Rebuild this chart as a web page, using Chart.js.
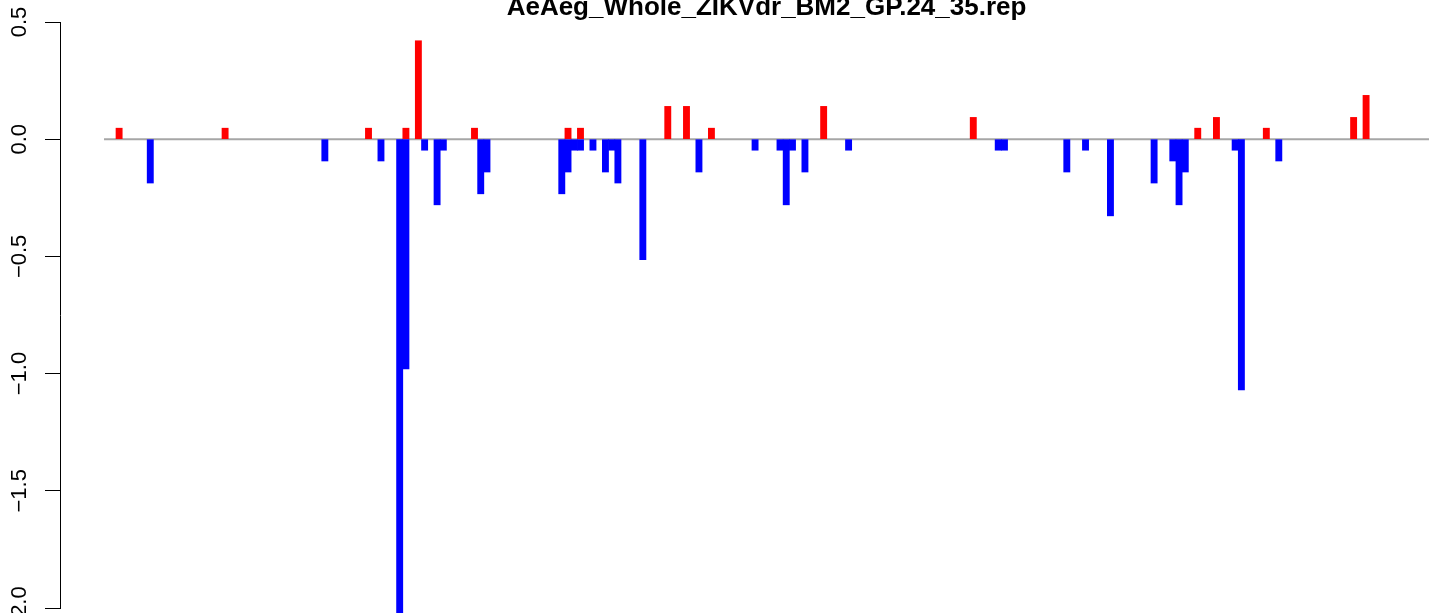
<!DOCTYPE html>
<html>
<head>
<meta charset="utf-8">
<script src="https://cdn.jsdelivr.net/npm/chart.js@4.4.1/dist/chart.umd.min.js"></script>
<style>
  html, body { margin: 0; padding: 0; background: #fff; overflow: hidden; }
  #wrap { position: relative; width: 1429px; height: 640px; }
</style>
</head>
<body>
<div id="wrap"><canvas id="repChart"></canvas></div>
<script>
const chartTitle = 'AeAeg_Whole_ZIKVdr_BM2_GP.24_35.rep';
const yTicks = [-2.0, -1.5, -1.0, -0.5, 0.0, 0.5];

// red bars (above zero): slot index along the track and value
const upSlots = [0, 17, 40, 46, 48, 57, 72, 74, 88, 91, 95, 113, 137, 173, 176, 184, 198, 200];
const upValues = [0.047, 0.047, 0.047, 0.047, 0.42, 0.047, 0.047, 0.047, 0.14, 0.14, 0.047, 0.14, 0.093, 0.047, 0.093, 0.047, 0.093, 0.187];

// blue bars (below zero)
const downSlots = [5, 33, 42, 45, 46, 49, 51, 52, 58, 59, 71, 72, 73, 74, 76, 78, 79, 80, 84, 93,
  102, 106, 107, 108, 110, 117, 141, 142, 152, 155, 159, 166, 169, 170, 171, 179, 180, 186];
const downValues = [-0.187, -0.093, -0.093, -2.05, -0.98, -0.047, -0.28, -0.047, -0.233, -0.14,
  -0.233, -0.14, -0.047, -0.047, -0.047, -0.14, -0.047, -0.187, -0.514, -0.14,
  -0.047, -0.047, -0.28, -0.047, -0.14, -0.047, -0.047, -0.047, -0.14, -0.047,
  -0.327, -0.187, -0.093, -0.28, -0.14, -0.047, -1.07, -0.093];

const zeroLineFrom = -2.42; // where the grey zero line starts, in slot units

const zeroLine = {
  id: 'zeroLine',
  beforeDatasetsDraw(chart) {
    const { ctx, chartArea, scales: { x, y } } = chart;
    const py = y.getPixelForValue(0);
    ctx.save();
    ctx.strokeStyle = '#a6a6a6';
    ctx.lineWidth = 2;
    ctx.beginPath();
    ctx.moveTo(x.getPixelForValue(zeroLineFrom), py);
    ctx.lineTo(chartArea.right, py);
    ctx.stroke();
    ctx.restore();
  }
};

const plotTitle = {
  id: 'plotTitle',
  afterDraw(chart) {
    const { ctx, chartArea, scales: { x } } = chart;
    ctx.save();
    ctx.font = 'bold 26px "Liberation Sans", Arial, sans-serif';
    ctx.fillStyle = '#000';
    ctx.textAlign = 'center';
    ctx.textBaseline = 'alphabetic';
    ctx.fillText(chartTitle, (x.getPixelForValue(zeroLineFrom) + chartArea.right) / 2, 15);
    ctx.restore();
  }
};

const ctx = document.getElementById('repChart').getContext('2d');
new Chart(ctx, {
  type: 'bar',
  data: {
    datasets: [
      {
        label: 'up',
        data: upSlots.map((s, i) => ({ x: s, y: upValues[i] })),
        backgroundColor: '#ff0000',
        borderWidth: 0,
        barPercentage: 1,
        categoryPercentage: 1
      },
      {
        label: 'down',
        data: downSlots.map((s, i) => ({ x: s, y: downValues[i] })),
        backgroundColor: '#0000ff',
        borderWidth: 0,
        barPercentage: 1,
        categoryPercentage: 1,
        clip: false
      }
    ]
  },
  options: {
    responsive: true,
    maintainAspectRatio: false,
    animation: false,
    layout: { padding: { left: 0, right: 0, top: 22, bottom: 32 } },
    plugins: {
      legend: { display: false },
      tooltip: { enabled: false },
      title: { display: false }
    },
    scales: {
      x: {
        type: 'linear',
        min: -9.48,
        max: 210.09,
        offset: false,
        stacked: true,
        display: false,
        grid: { display: false }
      },
      y: {
        min: -2,
        max: 0.5,
        stacked: true,
        afterBuildTicks: s => { s.ticks = yTicks.map(v => ({ value: v })); },
        afterFit: s => { s.width = 60; },
        border: { display: true, color: '#000', width: 1 },
        grid: { drawOnChartArea: false, drawTicks: true, tickLength: 15, color: '#000', lineWidth: 1 },
        ticks: {
          minRotation: 90,
          maxRotation: 90,
          crossAlign: 'center',
          padding: 3.7,
          color: '#000',
          font: { family: '"Liberation Sans", Arial, sans-serif', size: 22 },
          callback: v => v.toFixed(1).replace('-', '\u2212')
        }
      }
    }
  },
  plugins: [zeroLine, plotTitle]
});
</script>
</body>
</html>
